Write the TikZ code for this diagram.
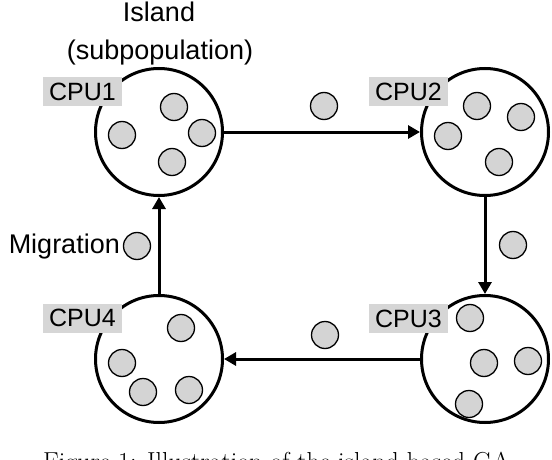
\documentclass[tikz,border=0pt]{standalone}
\usepackage{fontspec}
\setmainfont{Liberation Sans}
\newfontfamily\capfont{Latin Modern Roman}
\usetikzlibrary{arrows.meta}
\definecolor{indgray}{HTML}{D4D4D4}
\definecolor{labgray}{HTML}{D6D6D6}
\tikzset{
  island/.style={circle, draw, line width=3pt, minimum size=127pt, inner sep=0pt},
  indiv/.style={circle, draw, line width=1.3pt, fill=indgray, minimum size=27pt, inner sep=0pt},
  cpulabel/.style={fill=labgray, minimum width=79pt, minimum height=29pt, inner sep=0pt, font=\fontsize{25}{30}\selectfont},
  plaintext/.style={inner sep=0pt, font=\fontsize{27}{32}\selectfont},
  migarrow/.style={line width=3pt, -{Triangle[length=12pt,width=13pt]}}
}
\begin{document}
\begin{tikzpicture}[x=1pt,y=-1pt]
\useasboundingbox (0,0) rectangle (552,460);
\clip (0,0) rectangle (552,460);
% islands
\node[island] (c1) at (159,132) {};
\node[island] (c2) at (485,132) {};
\node[island] (c3) at (485,359) {};
\node[island] (c4) at (159,359) {};
% arrows
\draw[migarrow] (c1) -- (c2);
\draw[migarrow] (c2) -- (c3);
\draw[migarrow] (c3) -- (c4);
\draw[migarrow] (c4) -- (c1);
% individuals CPU1
\node[indiv] (i11) at (174,107) {};
\node[indiv] (i12) at (122,135) {};
\node[indiv] (i13) at (202,133) {};
\node[indiv] (i14) at (172,162) {};
% CPU2
\node[indiv] (i21) at (477,106) {};
\node[indiv] (i22) at (521,117) {};
\node[indiv] (i23) at (448,136) {};
\node[indiv] (i24) at (499,162) {};
% CPU3
\node[indiv] (i31) at (470,318) {};
\node[indiv] (i32) at (484,363) {};
\node[indiv] (i33) at (528,361) {};
\node[indiv] (i34) at (469,404) {};
% CPU4
\node[indiv] (i41) at (181,328) {};
\node[indiv] (i42) at (122,363) {};
\node[indiv] (i43) at (143,392) {};
\node[indiv] (i44) at (189,390) {};
% migrants
\node[indiv] (m12) at (324,106) {};
\node[indiv] (m23) at (513,245) {};
\node[indiv] (m34) at (325,335) {};
\node[indiv] (m41) at (137,246) {};
% labels
\node[cpulabel] (l1) at (82.5,91.5) {CPU1};
\node[cpulabel] (l2) at (408.5,91.5) {CPU2};
\node[cpulabel] (l3) at (408.5,318.5) {CPU3};
\node[cpulabel] (l4) at (82.5,318) {CPU4};
% texts
\node[plaintext, anchor=base] (isl) at (159,22) {Island};
\node[plaintext, anchor=base] (sub) at (160,60) {(subpopulation)};
\node[plaintext, anchor=base east] (mig) at (120,253) {Migration};
\node[inner sep=0pt, anchor=base west, font=\capfont\fontsize{26}{30}\selectfont] (cap) at (43,470) {Figure 1: Illustration of the island-based GA};
\end{tikzpicture}
\end{document}
